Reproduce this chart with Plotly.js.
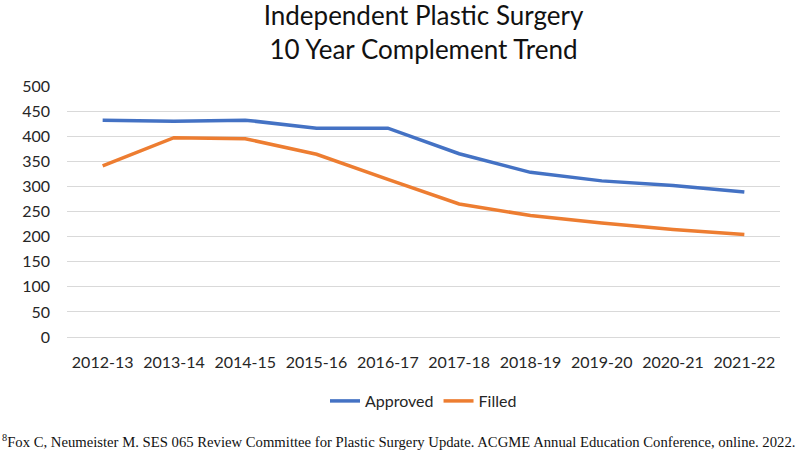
<!DOCTYPE html>
<html>
<head>
<meta charset="utf-8">
<script src="https://cdn.plot.ly/plotly-3.0.1.min.js"></script>
<style>html,body{margin:0;padding:0;background:#fff;}#chart{width:800px;height:456px;}</style>
</head>
<body>
<div id="chart"></div>
<script>
const categories = ["2012-13","2013-14","2014-15","2015-16","2016-17","2017-18","2018-19","2019-20","2020-21","2021-22"];
const approved = [432, 430, 432, 416, 416, 365, 328, 311, 302, 289];
const filled = [341, 397, 395, 364, 314, 265, 242, 227, 214, 204];
const yTicks = [0, 50, 100, 150, 200, 250, 300, 350, 400, 450, 500];

const FONT = "Lato, 'Open Sans', sans-serif";

const traces = [
  {x: categories, y: approved, name: "Approved", type: "scatter", mode: "lines",
   line: {color: "#4472C4", width: 3.5}},
  {x: categories, y: filled, name: "Filled", type: "scatter", mode: "lines",
   line: {color: "#ED7D31", width: 3.5}}
];

const layout = {
  width: 800, height: 456,
  paper_bgcolor: "#fff", plot_bgcolor: "#fff",
  margin: {l: 67, r: 20, t: 86, b: 119},
  font: {family: FONT, color: "#262626", size: 16},
  title: {text: "Independent Plastic Surgery<br>10 Year Complement Trend",
          x: 0.5, xanchor: "center", xref: "paper", y: 1 - 25/456, yanchor: "middle",
          font: {family: FONT, size: 26, color: "#111"}},
  xaxis: {type: "category", range: [-0.5, categories.length - 0.5],
          showgrid: false, zeroline: false, showline: false,
          ticks: "", tickfont: {size: 16, family: FONT, color: "#262626"},
          ticklabelstandoff: 14, fixedrange: true},
  yaxis: {range: [0, 500], tickvals: yTicks, ticktext: yTicks.map(String),
          showgrid: true, gridcolor: "#d9d9d9", gridwidth: 1,
          zeroline: true, zerolinecolor: "#d9d9d9", zerolinewidth: 1,
          showline: false, ticks: "", tickfont: {size: 16, family: FONT, color: "#262626"},
          ticklabelstandoff: 16, fixedrange: true},
  showlegend: true,
  legend: {orientation: "h", x: 0.5, xanchor: "center", y: -0.255, yanchor: "middle",
           font: {size: 16, family: FONT, color: "#262626"}},
  annotations: [{
    text: "<sup>8</sup>Fox C, Neumeister M. SES 065 Review Committee for Plastic Surgery Update. ACGME Annual Education Conference, online. 2022.",
    xref: "paper", yref: "paper", x: -67/713, xanchor: "left", y: (337-441)/251, yanchor: "middle",
    showarrow: false, font: {family: "'Liberation Serif', 'Times New Roman', serif", size: 14.7, color: "#111"}
  }]
};

Plotly.newPlot("chart", traces, layout, {displayModeBar: false, staticPlot: true});
</script>
</body>
</html>
